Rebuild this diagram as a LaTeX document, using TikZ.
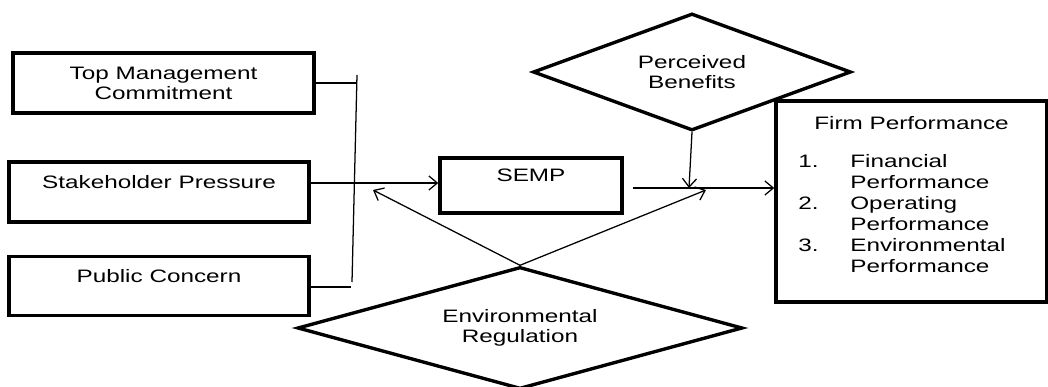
\documentclass[tikz,border=0pt]{standalone}
\usepackage{fontspec}
\setmainfont[FakeStretch=1.35]{Liberation Sans}
\usetikzlibrary{shapes.geometric,arrows.meta,positioning}
\renewcommand{\arraystretch}{1.05}

\begin{document}
\begin{tikzpicture}[
    x=0.025cm, y=-0.025cm,
    font=\fontsize{12.8}{14.2}\selectfont,
    >={Straight Barb[length=6pt,width=10pt]},
    box/.style={rectangle, draw, line width=2.4pt, align=center, inner sep=0pt},
    diam/.style={diamond, draw, line width=2.4pt, align=center, inner sep=0pt},
    link/.style={line width=0.9pt}
]
    \useasboundingbox (0,0) rectangle (1048,387);

    % Drivers
    \node[box, minimum width=7.525cm, minimum height=1.5cm] (top_mgmt) at (163.5,83) {Top Management\\Commitment};
    \node[box, minimum width=7.5cm, minimum height=1.5cm] (stakeholder) at (159,192) {Stakeholder Pressure\\\mbox{}};
    \node[box, minimum width=7.5cm, minimum height=1.475cm, below=0.775cm of stakeholder] (public) {Public Concern\\\mbox{}};

    % SEMP
    \node[box, minimum width=4.55cm, minimum height=1.375cm] (semp) at (531,185.5) {SEMP\\\mbox{}};

    % Moderators
    \node[diam, aspect=2.72, minimum width=7.95cm, minimum height=2.925cm] (benefits) at (692,72) {Perceived\\Benefits};
    \node[diam, aspect=3.65, minimum width=11.125cm, minimum height=3.05cm] (regulation) at (520,328) {Environmental\\Regulation};

    % Firm Performance
    \node[box, minimum width=6.775cm, minimum height=5.025cm] (performance) at (911.5,201.5) {Firm Performance\\[12.8pt]
        \hspace*{-0.475cm}\begin{tabular}[t]{@{}p{1.3cm}@{}l@{}}
        1. & Financial\\
           & Performance\\
        2. & Operating\\
           & Performance\\
        3. & Environmental\\
           & Performance
        \end{tabular}\\[4pt]\mbox{}};

    % Coordinates
    \coordinate (bar_top) at (357,75);
    \coordinate (bar_bot) at (352,282);
    \coordinate (pub_end) at (351,287);
    \coordinate (join) at (689,188);
    \coordinate (reg_left) at (373,190);
    \coordinate (reg_right) at (706,190);

    % Connections
    \draw[link] (bar_top) -- (bar_bot);
    \draw[link] (top_mgmt.east) -- (top_mgmt.east -| bar_top);
    \draw[link] (public.east |- pub_end) -- (pub_end);
    \draw[link, ->] ([yshift=0.225cm]stakeholder.east) -- ([yshift=0.225cm]stakeholder.east -| semp.west);
    \draw[link, ->] (benefits.south) -- (join);
    \draw[link, ->] ([xshift=0.225cm]semp.east |- join) -- (join -| performance.west);
    \draw[link, ->] (regulation.north) -- (reg_left);
    \draw[link, ->] (regulation.north) -- (reg_right);
\end{tikzpicture}
\end{document}
